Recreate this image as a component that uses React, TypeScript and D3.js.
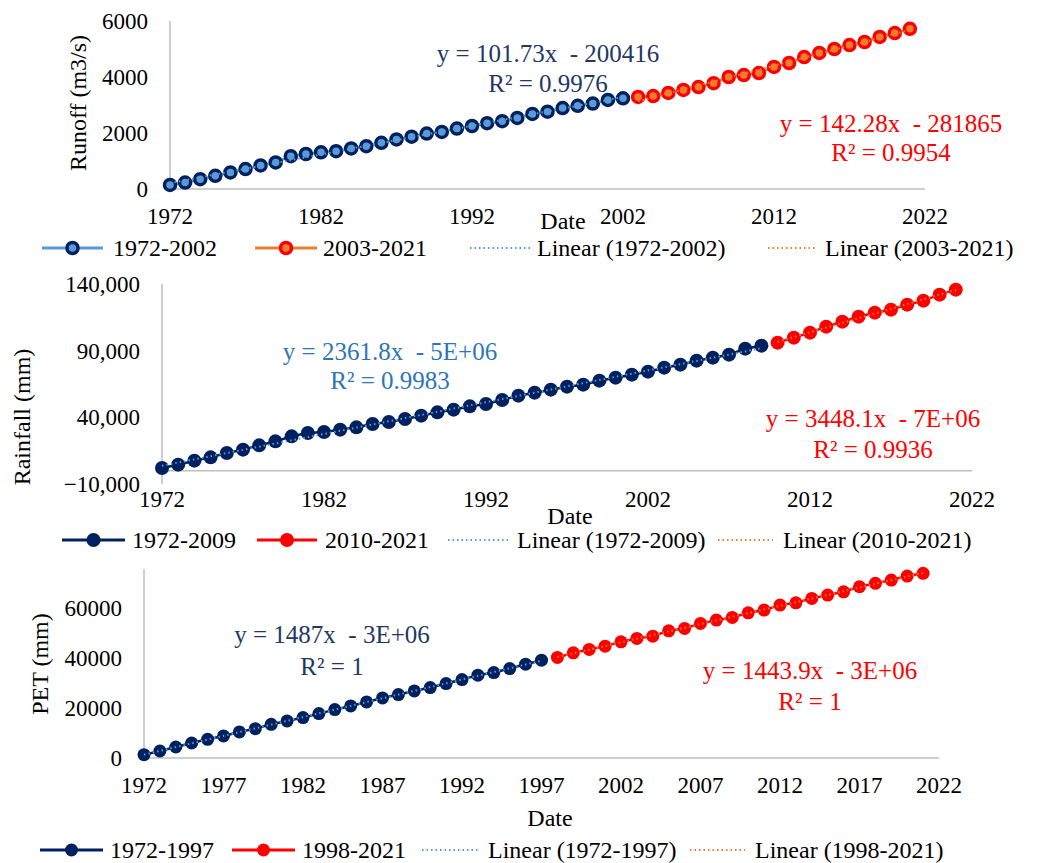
import React from "react";
import * as d3 from "d3";

// ---------- DATA ----------
const runoffStart1 = 1972;
const runoffEarly = [145, 230, 350, 470, 590, 710, 840, 950, 1170, 1250, 1310, 1350, 1450, 1530, 1650, 1770, 1870, 1980, 2040, 2160, 2250, 2350, 2420, 2540, 2680, 2760, 2890, 2970, 3050, 3180, 3240];
const runoffStart2 = 2003;
const runoffLate = [3290, 3320, 3430, 3540, 3640, 3780, 4000, 4070, 4140, 4360, 4500, 4710, 4860, 5000, 5140, 5250, 5430, 5570, 5720];

const rainStart1 = 1972;
const rainEarly = [2000, 4500, 7500, 10000, 13250, 15750, 19000, 22000, 25750, 28250, 29000, 30750, 32500, 35000, 36500, 38750, 41250, 43750, 45750, 48250, 50000, 53000, 56250, 58500, 60750, 63000, 64500, 67500, 69750, 72000, 74250, 77250, 79500, 82500, 84750, 87000, 91500, 93750];
const rainStart2 = 2010;
const rainLate = [96000, 99750, 103500, 108000, 111750, 115500, 118500, 120750, 124500, 127500, 132000, 135750];

const petStart1 = 1972;
const petEarly = [1330, 2800, 4400, 6000, 7470, 8800, 10400, 11730, 13470, 14800, 16130, 17730, 19330, 20800, 22400, 24000, 25330, 26800, 28130, 29730, 31330, 33070, 34130, 35730, 37480, 39080];
const petStart2 = 1998;
const petLate = [40160, 42000, 43360, 44680, 46400, 47760, 48680, 50800, 51760, 53760, 55080, 56160, 58000, 59080, 61080, 62000, 63760, 65080, 66400, 68400, 69760, 71080, 72680, 73760];

const runoffXTicks = [1972, 1982, 1992, 2002, 2012, 2022];
const rainXTicks = [1972, 1982, 1992, 2002, 2012, 2022];
const petXTicks = [1972, 1977, 1982, 1987, 1992, 1997, 2002, 2007, 2012, 2017, 2022];
const runoffYTicks = [0, 2000, 4000, 6000];
const rainYTicks = [-10000, 40000, 90000, 140000];
const petYTicks = [0, 20000, 40000, 60000];

const runoffLegend = ["1972-2002", "2003-2021", "Linear (1972-2002)", "Linear (2003-2021)"];
const rainLegend = ["1972-2009", "2010-2021", "Linear (1972-2009)", "Linear (2010-2021)"];
const petLegend = ["1972-1997", "1998-2021", "Linear (1972-1997)", "Linear (1998-2021)"];

const runoffEq = [["y = 101.73x  - 200416", "R² = 0.9976"], ["y = 142.28x  - 281865", "R² = 0.9954"]];
const rainEq = [["y = 2361.8x  - 5E+06", "R² = 0.9983"], ["y = 3448.1x  - 7E+06", "R² = 0.9936"]];
const petEq = [["y = 1487x  - 3E+06", "R² = 1"], ["y = 1443.9x  - 3E+06", "R² = 1"]];

// ---------- STYLE ----------
const FONT = "'Liberation Serif', 'Times New Roman', serif";
const NAVY = "#002060";
const LBLUE = "#5b9bd5";
const ORANGE = "#ed7d31";
const RED = "#ff0000";
const AXIS = "#bfbfbf";

type Pt = { x: number; y: number };
const toPts = (start: number, vals: number[]): Pt[] => vals.map((v, i) => ({ x: start + i, y: v }));

function fit(pts: Pt[]) {
  const mx = d3.mean(pts, (p) => p.x)!;
  const my = d3.mean(pts, (p) => p.y)!;
  const sxy = d3.sum(pts, (p) => (p.x - mx) * (p.y - my));
  const sxx = d3.sum(pts, (p) => (p.x - mx) ** 2);
  const b = sxy / sxx;
  return (x: number) => my + b * (x - mx);
}

type PanelCfg = {
  s1: Pt[];
  s2: Pt[];
  xr: [number, number];
  yDom: [number, number];
  yr: [number, number];
  xTicks: number[];
  yTicks: number[];
  fmt: (v: number) => string;
  xLabelY: number;
  yTitle: string;
  yTitleX: number;
  yTitleY: number;
  dateX: number;
  dateY: number;
  eq: string[][];
  eqPos: [number, number, number][];
  eqColors: [string, string];
  style: "top" | "solid";
  r: number;
  legend: string[];
  legendY: number;
  legendX: number[];
};

function Panel({ c }: { c: PanelCfg }) {
  const x = d3.scaleLinear().domain([1972, 2022]).range(c.xr);
  const y = d3.scaleLinear().domain(c.yDom).range(c.yr);
  const line = d3.line<Pt>().x((p) => x(p.x)).y((p) => y(p.y));
  const f1 = fit(c.s1);
  const f2 = fit(c.s2);
  const t1 = [c.s1[0].x, c.s1[c.s1.length - 1].x].map((v) => ({ x: v, y: f1(v) }));
  const t2 = [c.s2[0].x, c.s2[c.s2.length - 1].x].map((v) => ({ x: v, y: f2(v) }));
  const top = c.style === "top";
  const c1Line = top ? LBLUE : NAVY;
  const c2Line = top ? ORANGE : RED;
  const m1 = top ? { fill: LBLUE, stroke: NAVY, sw: 3.5 } : { fill: NAVY, stroke: NAVY, sw: 0 };
  const m2 = top ? { fill: ORANGE, stroke: RED, sw: 3.5 } : { fill: RED, stroke: RED, sw: 0 };
  const r = c.r;
  const x0 = c.xr[0];
  const y0 = y(0);
  const L = c.legendX;
  const ly = c.legendY;
  const marker = (cx: number, cy: number, m: { fill: string; stroke: string; sw: number }, key: string) => (
    <circle key={key} cx={cx} cy={cy} r={r} fill={m.fill} stroke={m.stroke} strokeWidth={m.sw} />
  );
  return (
    <g fontFamily={FONT}>
      <line x1={x0} x2={x0} y1={c.yr[1]} y2={c.yr[0]} stroke={AXIS} strokeWidth={1.5} />
      <line x1={x0} x2={c.xr[1]} y1={y0} y2={y0} stroke={AXIS} strokeWidth={1.5} />
      {c.yTicks.map((t) => (
        <text key={"yt" + t} x={x0 - 22} y={y(t) + 8} textAnchor="end" fontSize={23} fill="#000">
          {c.fmt(t)}
        </text>
      ))}
      {c.xTicks.map((t) => (
        <text key={"xt" + t} x={x(t)} y={c.xLabelY} textAnchor="middle" fontSize={23} fill="#000">
          {t}
        </text>
      ))}
      <text
        transform={`translate(${c.yTitleX},${c.yTitleY}) rotate(-90)`}
        textAnchor="middle"
        fontSize={24}
        fill="#000"
      >
        {c.yTitle}
      </text>
      <text x={c.dateX} y={c.dateY} textAnchor="middle" fontSize={24} fill="#000">
        Date
      </text>
      <path d={line(c.s1)!} fill="none" stroke={c1Line} strokeWidth={2.5} />
      <path d={line(c.s2)!} fill="none" stroke={c2Line} strokeWidth={2.5} />
      {c.s1.map((p, i) => marker(x(p.x), y(p.y), m1, "a" + i))}
      {c.s2.map((p, i) => marker(x(p.x), y(p.y), m2, "b" + i))}
      <path d={line(t1)!} fill="none" stroke={LBLUE} strokeWidth={2} strokeDasharray="1.5 3" />
      <path d={line(t2)!} fill="none" stroke={ORANGE} strokeWidth={2} strokeDasharray="1.5 3" />
      {c.eq.map((lines, k) =>
        lines.map((s, j) => (
          <text
            key={"eq" + k + j}
            x={c.eqPos[k][0]}
            y={c.eqPos[k][1 + j]}
            textAnchor="middle"
            fontSize={25}
            fill={c.eqColors[k]}
            style={{ whiteSpace: "pre" }}
          >
            {s}
          </text>
        ))
      )}
      <line x1={L[0]} x2={L[1]} y1={ly} y2={ly} stroke={c1Line} strokeWidth={3} />
      {marker((L[0] + L[1]) / 2, ly, m1, "lm1")}
      <text x={L[2]} y={ly + 8} fontSize={24} fill="#000">{c.legend[0]}</text>
      <line x1={L[3]} x2={L[4]} y1={ly} y2={ly} stroke={c2Line} strokeWidth={3} />
      {marker((L[3] + L[4]) / 2, ly, m2, "lm2")}
      <text x={L[5]} y={ly + 8} fontSize={24} fill="#000">{c.legend[1]}</text>
      <line x1={L[6]} x2={L[7]} y1={ly} y2={ly} stroke={LBLUE} strokeWidth={2} strokeDasharray="1.5 3" />
      <text x={L[8]} y={ly + 8} fontSize={24} fill="#000">{c.legend[2]}</text>
      <line x1={L[9]} x2={L[10]} y1={ly} y2={ly} stroke={ORANGE} strokeWidth={2} strokeDasharray="1.5 3" />
      <text x={L[11]} y={ly + 8} fontSize={24} fill="#000">{c.legend[3]}</text>
    </g>
  );
}

const plain = (v: number) => String(v);
const comma = d3.format(",");

export default function App() {
  const panels: PanelCfg[] = [
    {
      s1: toPts(runoffStart1, runoffEarly),
      s2: toPts(runoffStart2, runoffLate),
      xr: [170, 925],
      yDom: [0, 6000],
      yr: [189, 21],
      xTicks: runoffXTicks,
      yTicks: runoffYTicks,
      fmt: plain,
      xLabelY: 224,
      yTitle: "Runoff (m3/s)",
      yTitleX: 86,
      yTitleY: 103,
      dateX: 563,
      dateY: 229,
      eq: runoffEq,
      eqPos: [[548, 62, 92], [891, 132, 161]],
      eqColors: ["#1f3864", RED],
      style: "top",
      r: 5.5,
      legend: runoffLegend,
      legendY: 248,
      legendX: [42, 103, 113, 255, 317, 323, 470, 530, 537, 768, 815, 825],
    },
    {
      s1: toPts(rainStart1, rainEarly),
      s2: toPts(rainStart2, rainLate),
      xr: [162, 972],
      yDom: [-10000, 140000],
      yr: [484, 284],
      xTicks: rainXTicks,
      yTicks: rainYTicks,
      fmt: comma,
      xLabelY: 507,
      yTitle: "Rainfall (mm)",
      yTitleX: 30,
      yTitleY: 417,
      dateX: 570,
      dateY: 524,
      eq: rainEq,
      eqPos: [[390, 360, 389], [873, 427, 458]],
      eqColors: ["#2e75b6", RED],
      style: "solid",
      r: 7,
      legend: rainLegend,
      legendY: 540,
      legendX: [62, 125, 132, 257, 317, 325, 448, 510, 517, 718, 773, 783],
    },
    {
      s1: toPts(petStart1, petEarly),
      s2: toPts(petStart2, petLate),
      xr: [144, 939],
      yDom: [0, 75500],
      yr: [758, 569],
      xTicks: petXTicks,
      yTicks: petYTicks,
      fmt: plain,
      xLabelY: 793,
      yTitle: "PET (mm)",
      yTitleX: 48,
      yTitleY: 664,
      dateX: 550,
      dateY: 826,
      eq: petEq,
      eqPos: [[332, 643, 675], [810, 679, 710]],
      eqColors: ["#1f3864", RED],
      style: "solid",
      r: 6.5,
      legend: petLegend,
      legendY: 850,
      legendX: [40, 103, 110, 232, 295, 302, 422, 480, 488, 690, 745, 755],
    },
  ];
  return (
    <svg width={1052} height={863} style={{ position: "absolute", left: 0, top: 0, background: "#fff" }}>
      <rect width={1052} height={863} fill="#fff" />
      {panels.map((p, i) => (
        <Panel key={i} c={p} />
      ))}
    </svg>
  );
}
